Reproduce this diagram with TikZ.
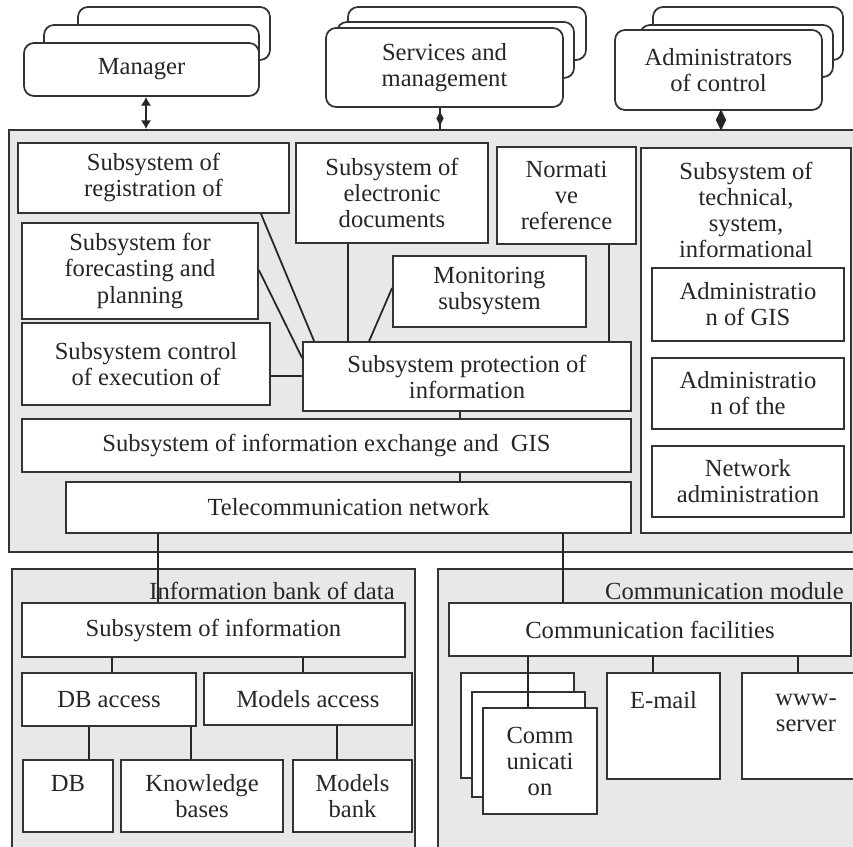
\documentclass[tikz,border=0pt]{standalone}
\usepackage{fontspec}
\setmainfont{Liberation Serif}
\usetikzlibrary{calc,arrows.meta,shapes.geometric}
\tikzset{
  bx/.style 2 args={draw=black!80, line width=1pt, fill=white, inner sep=0pt, align=center,
    minimum width=#1*0.02cm, minimum height=#2*0.02cm},
  rbx/.style 2 args={bx={#1}{#2}, rounded corners=0.2cm},
  pnl/.style 2 args={draw=black!80, line width=1pt, fill=black!9, inner sep=0pt,
    minimum width=#1*0.02cm, minimum height=#2*0.02cm},
  ln/.style={draw=black!85, line width=1pt},
  dmd/.style 2 args={diamond, fill=black!85, inner sep=0pt,
    minimum width=#1*0.02cm, minimum height=#2*0.02cm},
  lbl/.style={inner sep=0pt, anchor=east}
}
\begin{document}
\begin{tikzpicture}[x=0.02cm, y=-0.02cm, font=\fontsize{14}{14.8}\selectfont, text=black!85]
\path[use as bounding box] (0,0) rectangle (853,847);
\clip (0,0) rectangle (853,847);

% upper part
\node[pnl={861}{422}] (panel) at (439.5,341) {};

\node[rbx={192}{53}] (manback) at (174,33.5) {};
\node[rbx={215}{53}] (manmid) at (151.5,51.5) {};
\node[rbx={235}{53}] (man) at (141.5,69.5) {Manager};

\node[rbx={238}{53}] (srvback) at (467,33.5) {};
\node[rbx={237}{56}] (srvmid) at (455.5,50) {};
\node[rbx={237}{79}] (srv) at (444.5,67.5) {Services and\\management};

\node[rbx={190}{53}] (admback) at (748,33.5) {};
\node[rbx={193}{52}] (admmid) at (736.5,51) {};
\node[rbx={207}{80}] (adm) at (718.5,70) {Administrators\\of control};

\coordinate (manarr) at ($(man.south)+(4.5,0)$);
\coordinate (srvarr) at ($(srv.south)+(-4.5,0)$);
\coordinate (admarr) at ($(adm.south)+(2.5,0)$);
\draw[ln, {Latex[length=5pt,width=6pt]}-{Latex[length=5pt,width=6pt]}] (manarr) -- (manarr |- panel.north);
\draw[ln] (srvarr) -- node[dmd={8}{15}]{} (srvarr |- panel.north);
\draw[ln] (admarr) -- node[dmd={11}{22}]{} (admarr |- panel.north);

\node[bx={271}{70}] (reg) at (153.5,178) {Subsystem of\\registration of};
\node[bx={192}{100}] (edoc) at (392,193) {Subsystem of\\electronic\\documents};
\node[bx={139}{97}] (norm) at (566.5,195.5) {Normati\\ve\\reference};
\node[bx={236}{96}] (fore) at (140,271) {Subsystem for\\forecasting and\\planning};
\node[bx={193}{71}] (mon) at (489.5,291.5) {Monitoring\\subsystem};
\node[bx={248}{82}] (ctrl) at (146,364) {Subsystem control\\of execution of};
\node[bx={328}{69}] (prot) at (467,376.5) {Subsystem protection of\\information};
\node[bx={609}{53}] (exch) at (326.5,445.5) {Subsystem of information exchange and\ \ GIS};
\node[bx={565}{51}] (tele) at (348.5,507.5) {Telecommunication network};

\node[bx={210}{385}] (tech) at (746,340.5) {};
\node[inner sep=0pt, align=center] (techlbl) at (746,209.5) {Subsystem of\\technical,\\system,\\informational};
\node[bx={192}{73}] (agis) at (748,304.5) {Administratio\\n of GIS};
\node[bx={192}{71}] (athe) at (748,393.5) {Administratio\\n of the};
\node[bx={192}{71}] (netadm) at (748,481.5) {Network\\administration};

\draw[ln] ($(reg.south)+(107.5,0)$) -- ($(prot.north west)+(12,0)$);
\draw[ln] ($(fore.east)+(0,-1)$) -- ($(prot.west)+(0,-18.5)$);
\draw[ln] ($(mon.west)+(0,-3.5)$) -- ($(prot.north west)+(67,0)$);
\coordinate (edocdn) at ($(edoc.south)+(-44,0)$);
\draw[ln] (edocdn) -- (edocdn |- prot.north);
\coordinate (normdn) at ($(norm.south)+(42.5,0)$);
\draw[ln] (normdn) -- (normdn |- prot.north);
\coordinate (ctrlrt) at ($(ctrl.east)+(0,12)$);
\draw[ln] (ctrlrt) -- (ctrlrt -| prot.west);
\coordinate (protdn) at ($(prot.south)+(-7,0)$);
\draw[ln] (protdn) -- (protdn |- exch.north);
\coordinate (exchdn) at (protdn |- exch.south);
\draw[ln] (exchdn) -- (exchdn |- tele.north);

% lower part
\node[pnl={403}{301}] (bank) at (213.5,719.5) {};
\node[pnl={432}{301}] (cmod) at (654,719.5) {};
\node[lbl] (banklbl) at (395,591) {Information bank of data};
\node[lbl] (cmodlbl) at (844,591) {Communication module};

\node[bx={383}{54}] (info) at (213.5,630) {Subsystem of information};
\node[bx={174}{53}] (dbacc) at (109,699.5) {DB access};
\node[bx={208}{52}] (macc) at (308,699) {Models access};
\node[bx={90}{72}] (db) at (68,796) {DB\\\mbox{}};
\node[bx={162}{72}] (kb) at (202,796) {Knowledge\\bases};
\node[bx={119}{72}] (mbank) at (352.5,796) {Models\\bank};

\node[bx={402}{53}] (fac) at (650,629.5) {Communication facilities};
\node[bx={113}{105}] (comback) at (517.5,725.5) {};
\node[bx={113}{105}] (commid) at (528.5,744.5) {};
\node[bx={114}{106}] (com) at (540,761) {Comm\\unicati\\on};
\node[bx={113}{106}] (email) at (663.5,726) {E-mail\\\mbox{}\\\mbox{}};
\node[bx={128}{106}] (www) at (806,726) {www-\\server\\\mbox{}};

\coordinate (telel) at ($(tele.south)+(-190.5,0)$);
\draw[ln] (telel) -- (telel |- info.north);
\coordinate (teler) at ($(tele.south)+(214.5,0)$);
\draw[ln] (teler) -- (teler |- fac.north);

\coordinate (infol) at ($(info.south)+(-101.5,0)$);
\draw[ln] (infol) -- (infol |- dbacc.north);
\coordinate (infor) at ($(info.south)+(89.5,0)$);
\draw[ln] (infor) -- (infor |- macc.north);
\coordinate (dbaccl) at ($(dbacc.south)+(-20,0)$);
\draw[ln] (dbaccl) -- (dbaccl |- db.north);
\coordinate (dbaccr) at ($(dbacc.south)+(82,0)$);
\draw[ln] (dbaccr) -- (dbaccr |- kb.north);
\coordinate (maccdn) at ($(macc.south)+(29,0)$);
\draw[ln] (maccdn) -- (maccdn |- mbank.north);

\coordinate (facl) at ($(fac.south)+(-122,0)$);
\draw[ln] (facl) -- (facl |- com.north);
\coordinate (facm) at ($(fac.south)+(3,0)$);
\draw[ln] (facm) -- (facm |- email.north);
\coordinate (facr) at ($(fac.south)+(148,0)$);
\draw[ln] (facr) -- (facr |- www.north);
\end{tikzpicture}
\end{document}
